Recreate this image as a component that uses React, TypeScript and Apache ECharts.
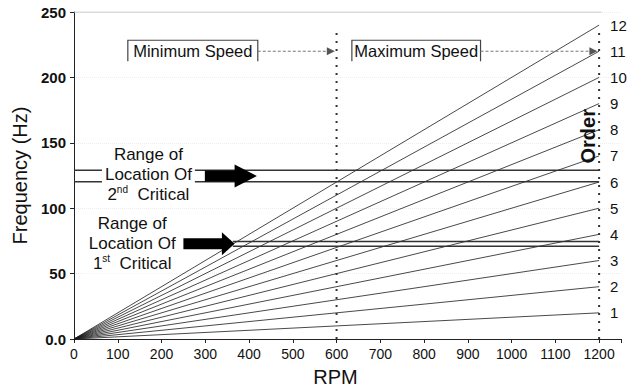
import React, { useEffect, useRef } from "react";
import * as echarts from "echarts";

const orders = [1, 2, 3, 4, 5, 6, 7, 8, 9, 10, 11, 12];
const rpmStart = 0;
const rpmEnd = 1200;
const freqAtEnd = [20, 40, 60, 80, 100, 120, 140, 160, 180, 200, 220, 240];
const secondCritical = [129, 120.3];
const secondCriticalStart = 0;
const firstCritical = [74.5, 71];
const firstCriticalStart = 363;
const speedMarks = [600, 1200];
const speedMarkTop = [236, 238];
const yTicks = [0, 50, 100, 150, 200, 250];
const xTicks = [0, 100, 200, 300, 400, 500, 600, 700, 800, 900, 1000, 1100, 1200];

const FONT = "'Liberation Sans', Arial, sans-serif";

export default function App() {
  const ref = useRef<HTMLDivElement>(null);
  useEffect(() => {
    if (!ref.current) return;
    const chart = echarts.init(ref.current, null, { renderer: "svg" });
    const series: any[] = [];
    orders.forEach((o, i) => {
      series.push({
        type: "line",
        symbol: "none",
        silent: true,
        lineStyle: { color: "#1a1a1a", width: 0.8 },
        endLabel: {
          show: true,
          distance: 11,
          formatter: String(o),
          fontFamily: FONT,
          fontSize: 15,
          color: "#111",
        },
        data: [[rpmStart, 0], [rpmEnd, freqAtEnd[i]]],
      });
    });
    secondCritical.forEach((f) => {
      series.push({
        type: "line",
        symbol: "none",
        silent: true,
        z: 3,
        lineStyle: { color: "#333", width: 1.5 },
        data: [[secondCriticalStart, f], [rpmEnd, f]],
      });
    });
    firstCritical.forEach((f) => {
      series.push({
        type: "line",
        symbol: "none",
        silent: true,
        z: 3,
        lineStyle: { color: "#333", width: 1.5 },
        data: [[firstCriticalStart, f], [rpmEnd, f]],
      });
    });
    speedMarks.forEach((r, i) => {
      series.push({
        type: "line",
        symbol: "none",
        silent: true,
        z: 4,
        lineStyle: { color: "#333", width: 2, type: [2, 6] },
        data: [[r, 0], [r, speedMarkTop[i]]],
      });
    });
    series.push({
      type: "line",
      symbol: "none",
      silent: true,
      lineStyle: { color: "#bbb", width: 1 },
      data: [[0, 250], [1205, 250]],
    });

    chart.setOption({
      animation: false,
      backgroundColor: "#fff",
      grid: { left: 74, right: 20, top: 12, bottom: 50, containLabel: false },
      xAxis: {
        type: "value",
        min: 0,
        max: 1250,
        interval: 100,
        name: "RPM",
        nameLocation: "middle",
        nameGap: 28,
        nameTextStyle: { fontFamily: FONT, fontSize: 20, color: "#111", padding: [0, 24, 0, 0] },
        axisLine: { lineStyle: { color: "#222", width: 1 } },
        axisTick: { show: true, length: 4, lineStyle: { color: "#222" } },
        axisLabel: {
          fontFamily: FONT,
          fontSize: 14,
          color: "#111",
          margin: 8,
          formatter: (v: number) => (xTicks.includes(v) ? String(v) : ""),
        },
        splitLine: { show: false },
      },
      yAxis: {
        type: "value",
        min: 0,
        max: 250,
        interval: 50,
        name: "Frequency (Hz)",
        nameLocation: "middle",
        nameGap: 38,
        nameTextStyle: { fontFamily: FONT, fontSize: 20, color: "#111" },
        axisLine: { show: true, lineStyle: { color: "#222", width: 1 } },
        axisTick: { show: true, length: 4, lineStyle: { color: "#222" } },
        axisLabel: {
          fontFamily: FONT,
          fontSize: 15,
          fontWeight: "bold",
          color: "#111",
          margin: 8,
          formatter: (v: number) => (yTicks.includes(v) ? (v === 0 ? "0.0" : String(v)) : ""),
        },
        splitLine: { show: true, lineStyle: { color: "#eee", type: "dotted" } },
      },
      series,
    });

    const P = (x: number, y: number) => chart.convertToPixel({ gridIndex: 0 }, [x, y]) as number[];

    const arrow = (x0: number, x1: number, xt: number, f: number) => {
      const a = P(x0, f);
      const b = P(x1, f);
      const t = P(xt, f);
      const cy = a[1];
      return {
        type: "polygon",
        z: 120,
        shape: {
          points: [
            [a[0], cy - 5.5],
            [b[0], cy - 5.5],
            [b[0], cy - 11.5],
            [t[0], cy],
            [b[0], cy + 11.5],
            [b[0], cy + 5.5],
            [a[0], cy + 5.5],
          ],
        },
        style: { fill: "#000" },
      };
    };

    const box = (x0: number, x1: number, f: number, text: string) => {
      const a = P(x0, f);
      const b = P(x1, f);
      return [
        {
          type: "polyline",
          z: 110,
          shape: { points: [[a[0], a[1] + 10], [a[0], a[1] - 11], [b[0], a[1] - 11], [b[0], a[1] + 10]] },
          style: { stroke: "#444", lineWidth: 1.2, fill: null },
        },
        {
          type: "text",
          z: 111,
          x: (a[0] + b[0]) / 2,
          y: a[1],
          style: {
            text,
            fontFamily: FONT,
            fontSize: 16.5,
            fill: "#111",
            align: "center",
            verticalAlign: "middle",
          },
        },
      ];
    };

    const dashArrow = (x0: number, x1: number, f: number) => {
      const a = P(x0, f);
      const b = P(x1, f);
      return [
        {
          type: "line",
          z: 110,
          shape: { x1: a[0], y1: a[1], x2: b[0] - 6, y2: b[1] },
          style: { stroke: "#777", lineWidth: 1, lineDash: [3, 2] },
        },
        {
          type: "polygon",
          z: 110,
          shape: { points: [[b[0] - 8, b[1] - 4], [b[0], b[1]], [b[0] - 8, b[1] + 4]] },
          style: { fill: "#555" },
        },
      ];
    };

    const critText = (xr: number, f: number, ord: string, sup: string) => {
      const c = P(xr, f);
      return {
        type: "text",
        z: 115,
        x: c[0],
        y: c[1],
        style: {
          text: "{n|Range of}\n{n|Location Of}\n{n|" + ord + "}{s|" + sup + "}{n|  Critical}",
          fontFamily: FONT,
          fontSize: 17,
          fill: "#111",
          align: "center",
          verticalAlign: "middle",
          backgroundColor: "#fff",
          padding: [0, 3],
          lineHeight: 20,
          rich: {
            n: { fontFamily: FONT, fontSize: 17, lineHeight: 20, fill: "#111" },
            s: { fontFamily: FONT, fontSize: 10, lineHeight: 20, verticalAlign: "top", fill: "#111" },
          },
        },
      };
    };

    const orderPos = P(1175, 155);
    const graphic: any[] = [
      critText(170, 126, "2", "nd"),
      critText(133, 73, "1", "st"),
      arrow(299, 367, 418, (secondCritical[0] + secondCritical[1]) / 2),
      arrow(250, 338, 367, (firstCritical[0] + firstCritical[1]) / 2),
      ...box(123, 420, 220, "Minimum Speed"),
      ...dashArrow(420, 596, 220),
      ...box(635, 929, 220, "Maximum Speed"),
      ...dashArrow(929, 1196, 220),
      {
        type: "text",
        z: 115,
        x: orderPos[0],
        y: orderPos[1],
        rotation: Math.PI / 2,
        style: {
          text: "Order",
          fontFamily: FONT,
          fontSize: 20,
          fontWeight: "bold",
          fill: "#111",
          align: "center",
          verticalAlign: "middle",
        },
      },
    ];
    chart.setOption({ graphic });

    return () => chart.dispose();
  }, []);
  return (
    <div
      ref={ref}
      style={{ position: "fixed", left: 0, top: 0, width: 641, height: 392 }}
    />
  );
}
